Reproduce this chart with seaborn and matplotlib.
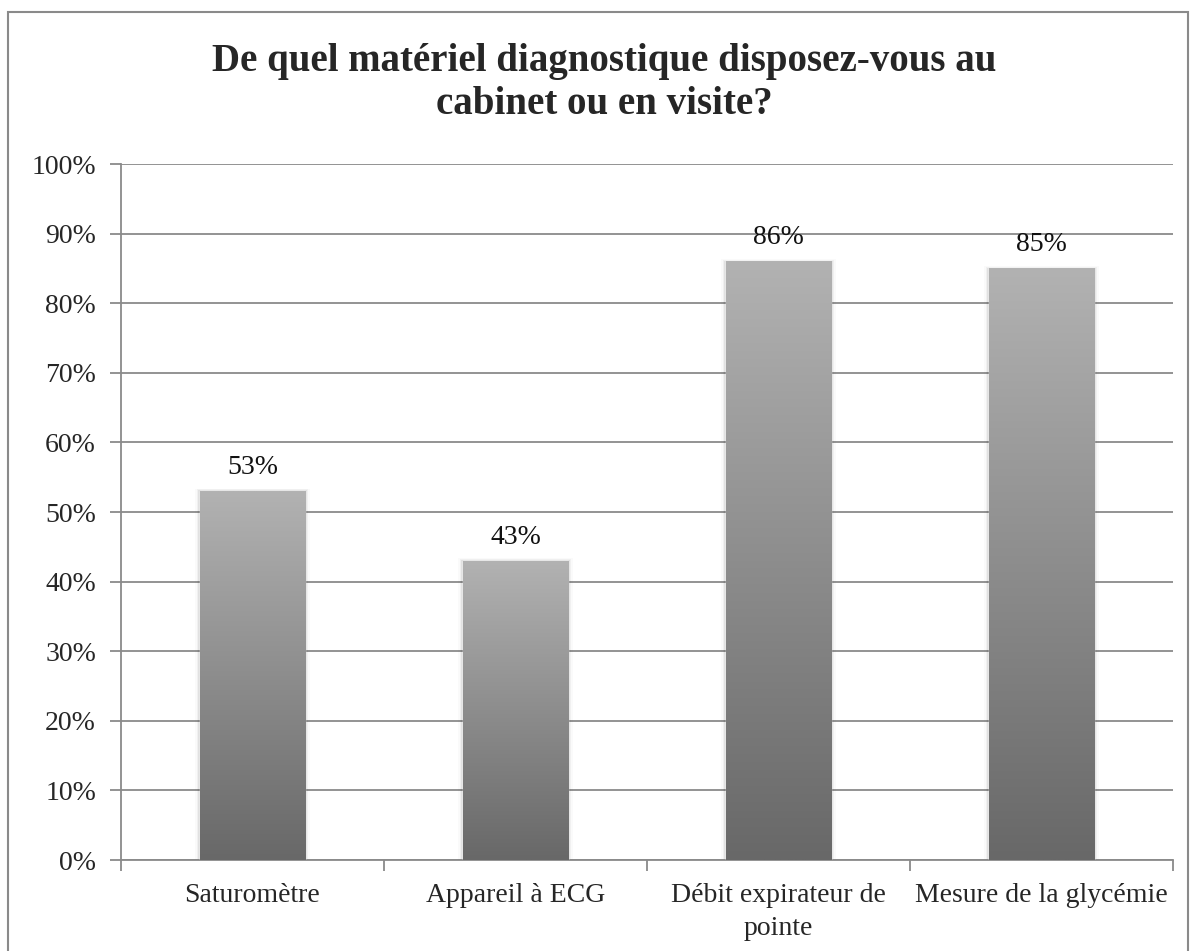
import numpy as np
import pandas as pd
import matplotlib.pyplot as plt
import seaborn as sns
from matplotlib.colors import LinearSegmentedColormap
from matplotlib.patches import Rectangle

categories = ["Saturomètre", "Appareil à ECG", "Débit expirateur de\npointe", "Mesure de la glycémie"]
values = [53, 43, 86, 85]
label_text = ["53%", "43%", "86%", "85%"]
yticks = [0, 10, 20, 30, 40, 50, 60, 70, 80, 90, 100]
title = "De quel matériel diagnostique disposez-vous au\ncabinet ou en visite?"

df = pd.DataFrame({"cat": categories, "val": values})

sns.set_style("white")
plt.rcParams["font.family"] = ["Liberation Serif", "DejaVu Serif"]

fig = plt.figure(figsize=(11.95, 9.51), dpi=100)
ax = fig.add_axes([121 / 1195, 1 - 860 / 951, 1052 / 1195, 696 / 951])

sns.barplot(data=df, x="cat", y="val", color="#999999", width=0.4, ax=ax, zorder=3)

# vertical gradient fill per bar
cmap = LinearSegmentedColormap.from_list("g", ["#686868", "#b2b2b2"])
grad = np.linspace(0, 1, 256).reshape(-1, 1)
for p in ax.patches:
    x0, w, h = p.get_x(), p.get_width(), p.get_height()
    # soft shadow
    for k, a in enumerate([0.06, 0.04, 0.02]):
        d = 0.006 * (k + 1)
        ax.add_patch(Rectangle((x0 - d, 0), w + 2 * d, h + d * 20, color="black",
                               alpha=a, lw=0, zorder=2))
    im = ax.imshow(grad, extent=[x0, x0 + w, 0, h], origin="lower", cmap=cmap,
                   aspect="auto", zorder=4)
    im.set_clip_path(p)
    p.set_facecolor("none")

for i, (v, t) in enumerate(zip(values, label_text)):
    ax.annotate(t, (i, v), xytext=(0, 8), textcoords="offset points",
                ha="center", va="bottom", fontsize=20, color="#111111")

ax.set_xlim(-0.5, len(categories) - 0.5)
ax.set_ylim(0, 100)
ax.set_yticks(yticks)
ax.set_yticklabels([f"{t}%" for t in yticks], fontsize=20)
ax.set_xticks(range(len(categories)))
ax.set_xticklabels(categories, fontsize=20, linespacing=1.45)
ax.set_xlabel("")
ax.set_ylabel("")
ax.yaxis.grid(True, color="#8a8a8a", lw=1.3, zorder=1)
ax.set_axisbelow(True)

for s in ["top", "right"]:
    ax.spines[s].set_visible(False)
for s in ["left", "bottom"]:
    ax.spines[s].set_color("#8a8a8a")
    ax.spines[s].set_linewidth(1.3)

ax.tick_params(axis="y", left=True, length=8, width=1.3, color="#8a8a8a", pad=10)
ax.tick_params(axis="x", bottom=False, pad=13)
# category separator ticks on x axis
ax.set_xticks(np.arange(-0.5, len(categories), 1), minor=True)
ax.tick_params(axis="x", which="minor", bottom=True, length=8, width=1.3, color="#8a8a8a")

fig.text(604 / 1195, 1 - 83 / 951, title, ha="center", va="center", fontsize=28,
         fontweight="bold", linespacing=1.2)

fig.add_artist(Rectangle((8 / 1195, -0.01), 1180 / 1195, 1 - 12 / 951 + 0.01,
                         transform=fig.transFigure, fill=False, ec="#8a8a8a", lw=1.5))

fig.savefig("out.png", dpi=100)
